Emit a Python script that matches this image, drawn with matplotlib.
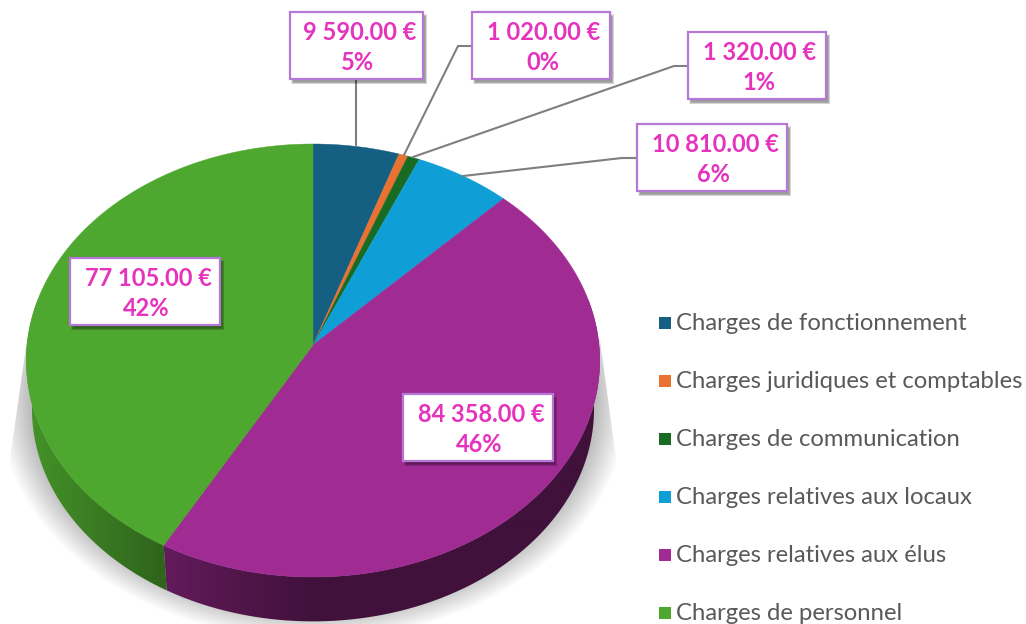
#!/usr/bin/env python3
# -*- coding: utf-8 -*-
import numpy as np
import matplotlib
matplotlib.use('Agg')
import matplotlib.pyplot as plt
from matplotlib.patches import Polygon, Rectangle
from matplotlib.colors import to_rgb

# data
categories = ['Charges de fonctionnement', 'Charges juridiques et comptables',
              'Charges de communication', 'Charges relatives aux locaux',
              'Charges relatives aux élus', 'Charges de personnel']
values = [9590.00, 1020.00, 1320.00, 10810.00, 84358.00, 77105.00]
amount_labels = ['9 590.00 €', '1 020.00 €', '1 320.00 €', '10 810.00 €', '84 358.00 €', '77 105.00 €']
pct_labels = ['5%', '0%', '1%', '6%', '46%', '42%']
colors = ['#156082', '#E97132', '#196B24', '#0F9ED5', '#A02B93', '#4EA72E']

# label boxes: left, right, top, bottom (pixels)
boxes = [(290, 423, 12, 79), (472, 610, 12, 79), (688, 826, 32, 99),
         (637, 787, 124, 191), (403, 553, 394, 461), (70, 220, 258, 325)]
leaders = [[(356, 79), (356, 146)],
           [(472, 46), (458, 46), (404, 155)],
           [(688, 66), (674, 66), (413, 157)],
           [(637, 158), (622, 158), (463, 176)]]

plt.rcParams['font.family'] = ['Lato', 'DejaVu Sans']

fig = plt.figure(figsize=(10.26, 6.24), dpi=100)
ax = fig.add_axes([0, 0, 1, 1])
ax.axis('off')

# perspective pie
CX, CY = 313, 345
RX, RY, K = 286, 215.4, 0.0716
RIM_SCALE, RIM_DY = 0.98, 49


def project(theta, scale=1.0, dy=0.0):
    u, v = np.sin(theta), np.cos(theta)
    w = 1 + K * v
    return CX + scale * RX * u / w, CY + dy - scale * RY * v / w


def arc(t0, t1, scale=1.0, dy=0.0):
    n = max(int((t1 - t0) * 120), 2)
    t = np.linspace(t0, t1, n)
    x, y = project(t, scale, dy)
    return np.column_stack([x, y])


fracs = np.array(values) / np.sum(values)
edges = np.concatenate([[0], np.cumsum(fracs)]) * 2 * np.pi

# shadow under the pie
clip = Polygon([(27, 340), (600, 340), (619, 480), (619, 624), (7, 624), (7, 480)],
               transform=ax.transData, fc='none', ec='none')
ax.add_patch(clip)
n_layers = 24
for i in range(n_layers):
    s = 1.12 - 0.12 * i / (n_layers - 1)
    pts = arc(0, 2 * np.pi, s * RIM_SCALE, 40)
    p = Polygon(pts, fc='black', ec='none', alpha=0.012, zorder=1)
    ax.add_patch(p)
    p.set_clip_path(clip)

# side wall, horizontal gradient clipped to each slice's wall
xgrid = np.linspace(0, 640, 320)
for k, c in enumerate(colors):
    base = np.array(to_rgb(c))
    if k == 5:
        shade = 0.60 + 0.28 * np.clip((163 - xgrid) / 135, 0, 1)
    else:
        shade = 0.40 + 0.22 * np.clip((313 - xgrid) / 150, 0, 1)
    img = (base[None, :] * shade[:, None])[None, :, :]
    im = ax.imshow(img, extent=(0, 640, 640, 300), aspect='auto', zorder=2, interpolation='bilinear')
    wall = Polygon(np.vstack([arc(edges[k], edges[k + 1]),
                              arc(edges[k], edges[k + 1], RIM_SCALE, RIM_DY)[::-1]]),
                   transform=ax.transData, fc='none', ec='none')
    ax.add_patch(wall)
    im.set_clip_path(wall)

ax.set_xlim(0, 1026)
ax.set_ylim(624, 0)

# top face
for k, c in enumerate(colors):
    pts = np.vstack([[(CX, CY)], arc(edges[k], edges[k + 1])])
    ax.add_patch(Polygon(pts, fc=c, ec=c, lw=0.3, zorder=3))

# leader lines
for line in leaders:
    xs, ys = zip(*line)
    ax.plot(xs, ys, color='#7F7F7F', lw=1.5, zorder=4, solid_joinstyle='round')

# label boxes
for (l, r, t, b), amount, pct in zip(boxes, amount_labels, pct_labels):
    for g in range(5):
        ax.add_patch(Rectangle((l + 1 + g * 0.5, t + 2 + g * 0.5), r - l + 3 - g, b - t + 3 - g,
                               fc='black', ec='none', alpha=0.09, zorder=5))
    ax.add_patch(Rectangle((l, t), r - l, b - t, fc='white', ec='#B678D6', lw=1.6, zorder=6))
    ax.text((l + r) / 2 + 3, t + 20, amount, color='#E633BE', fontsize=17, fontweight='bold',
            ha='center', va='center', zorder=7)
    ax.text((l + r) / 2 + 1.5, t + 51, pct, color='#E633BE', fontsize=17, fontweight='bold',
            ha='center', va='center', zorder=7)

# legend
legend_y = [323, 381, 439, 497, 555, 613]
for name, c, y in zip(categories, colors, legend_y):
    ax.add_patch(Rectangle((659, y - 6), 12, 12, fc=c, ec='none'))
    ax.text(676, y + 1, name, color='#595959', fontsize=17.2, ha='left', va='center')

fig.savefig('out.png', dpi=100)
